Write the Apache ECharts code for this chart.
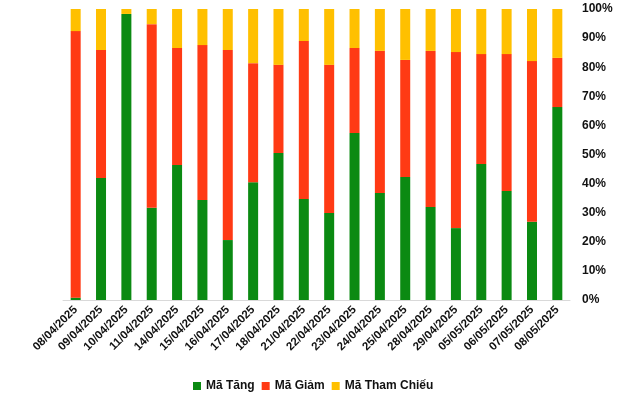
<!DOCTYPE html>
<html>
<head>
<meta charset="utf-8">
<script src="https://cdn.jsdelivr.net/npm/echarts@6/dist/echarts.min.js"></script>
<style>html,body{margin:0;padding:0;background:#fff}#c{width:640px;height:394px}</style>
</head>
<body>
<div id="c"></div>
<script>
var categories = ["08/04/2025","09/04/2025","10/04/2025","11/04/2025","14/04/2025","15/04/2025","16/04/2025","17/04/2025","18/04/2025","21/04/2025","22/04/2025","23/04/2025","24/04/2025","25/04/2025","28/04/2025","29/04/2025","05/05/2025","06/05/2025","07/05/2025","08/05/2025"];
var maTang = [0.8,41.9,98.3,31.7,46.4,34.4,20.6,40.5,50.5,34.7,29.9,57.4,36.8,42.3,32.0,24.7,46.7,37.5,26.9,66.3];
var maGiam = [91.6,44.0,0,63.1,40.2,53.2,65.3,40.9,30.3,54.3,50.9,29.2,48.8,40.2,53.6,60.5,37.8,47.0,55.2,16.9];
var maThamChieu = [7.6,14.1,1.7,5.2,13.4,12.4,14.1,18.6,19.2,11.0,19.2,13.4,14.4,17.5,14.4,14.8,15.5,15.5,17.9,16.8];
var yTicks = [0,10,20,30,40,50,60,70,80,90,100];

var chart = echarts.init(document.getElementById('c'));
var font = 'Liberation Sans, Arial, sans-serif';
chart.setOption({
  animation: false,
  grid: {left: 63, right: 70, top: 9, bottom: 94, containLabel: false},
  legend: {
    top: 375, left: 188,
    itemWidth: 8, itemHeight: 8, itemGap: 7,
    icon: 'rect',
    textStyle: {fontFamily: font, fontWeight: 'bold', fontSize: 12, color: '#111'},
    data: ['Mã Tăng','Mã Giảm','Mã Tham Chiếu']
  },
  xAxis: {
    type: 'category', data: categories,
    axisLine: {lineStyle: {color: '#d9d9d9'}},
    axisTick: {show: false},
    axisLabel: {rotate: 45, interval: 0, fontFamily: font, fontWeight: 'bold', fontSize: 11.5, color: '#111', margin: 8}
  },
  yAxis: {
    type: 'value', position: 'right', min: yTicks[0], max: yTicks[yTicks.length-1], interval: 10,
    axisLine: {show: false}, axisTick: {show: false}, splitLine: {show: false},
    axisLabel: {formatter: '{value}%', fontFamily: font, fontWeight: 'bold', fontSize: 12, color: '#111', margin: 12}
  },
  series: [
    {name: 'Mã Tăng', type: 'bar', stack: 's', data: maTang, barWidth: 10, itemStyle: {color: '#0B8A12'}},
    {name: 'Mã Giảm', type: 'bar', stack: 's', data: maGiam, barWidth: 10, itemStyle: {color: '#FF3A14'}},
    {name: 'Mã Tham Chiếu', type: 'bar', stack: 's', data: maThamChieu, barWidth: 10, itemStyle: {color: '#FFC000'}}
  ]
});
</script>
</body>
</html>
